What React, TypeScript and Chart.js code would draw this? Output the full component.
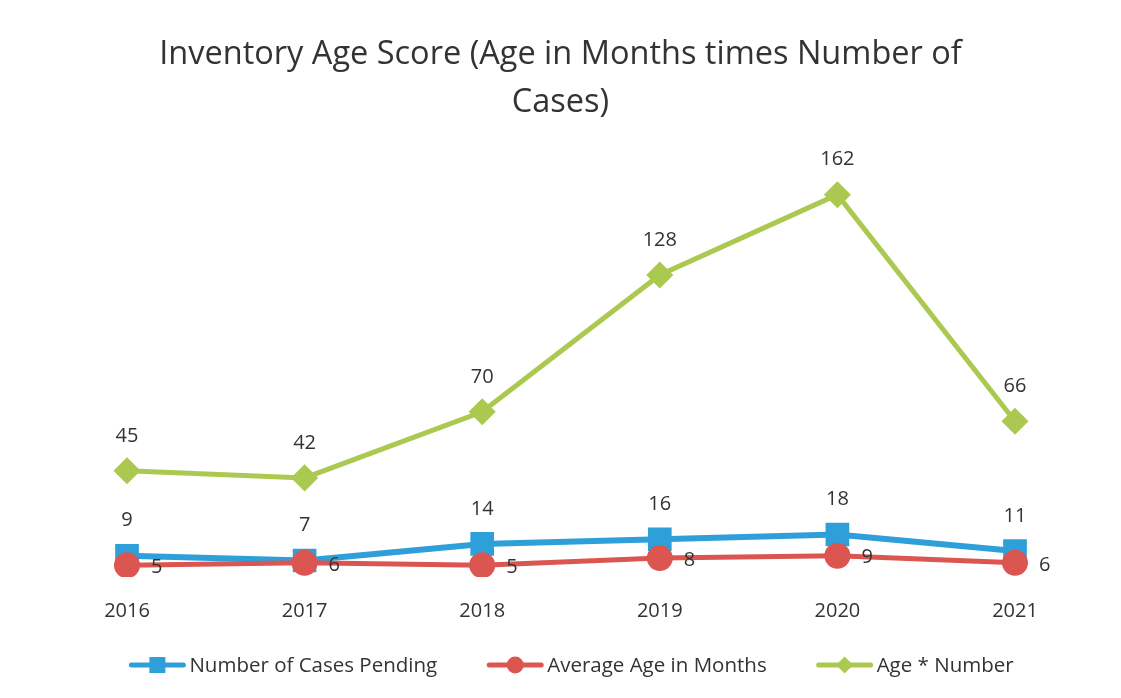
import React, { useEffect, useRef } from 'react';
import { Chart, registerables } from 'chart.js';

Chart.register(...registerables);

const years = ['2016', '2017', '2018', '2019', '2020', '2021'];
const casesPending = [9, 7, 14, 16, 18, 11];
const avgAgeMonths = [5, 6, 5, 8, 9, 6];
const ageTimesNumber = [45, 42, 70, 128, 162, 66];
const seriesNames = ['Number of Cases Pending', 'Average Age in Months', 'Age * Number'];
const titleLines = ['Inventory Age Score (Age in Months times Number of', 'Cases)'];

const BLUE = '#2e9fd9';
const RED = '#dc5651';
const GREEN = '#abc951';
const TEXT = '#333333';
const FONT = '"Open Sans", "Noto Sans", sans-serif';

const valueLabels = {
  id: 'valueLabels',
  afterDatasetsDraw(chart: any) {
    const ctx = chart.ctx;
    ctx.save();
    ctx.font = `20px ${FONT}`;
    ctx.fillStyle = TEXT;
    ctx.textBaseline = 'middle';
    chart.data.datasets.forEach((ds: any, i: number) => {
      const meta = chart.getDatasetMeta(i);
      meta.data.forEach((pt: any, j: number) => {
        const v = String(ds.data[j]);
        if (ds.labelPos === 'right') {
          ctx.textAlign = 'left';
          ctx.fillText(v, pt.x + 24, pt.y + 2);
        } else {
          ctx.textAlign = 'center';
          ctx.fillText(v, pt.x, pt.y - 35);
        }
      });
    });
    ctx.restore();
  },
};

const lineLegend = {
  id: 'lineLegend',
  afterDraw(chart: any) {
    const ctx = chart.ctx;
    const y = 665;
    const iconW = 56;
    const iconGap = 4;
    const itemGap = 50;
    ctx.save();
    ctx.font = `20.5px ${FONT}`;
    const items = chart.data.datasets.map((ds: any) => ({
      ds,
      w: ctx.measureText(ds.label).width,
    }));
    const total =
      items.reduce((s: number, it: any) => s + iconW + iconGap + it.w, 0) + itemGap * (items.length - 1);
    let x = chart.width / 2 + 11 - total / 2;
    items.forEach((it: any) => {
      const c = it.ds.borderColor;
      ctx.strokeStyle = c;
      ctx.fillStyle = c;
      ctx.lineWidth = 5;
      ctx.lineCap = 'round';
      ctx.beginPath();
      ctx.moveTo(x + 2, y);
      ctx.lineTo(x + iconW - 2, y);
      ctx.stroke();
      const cx = x + iconW / 2;
      ctx.beginPath();
      if (it.ds.pointStyle === 'rect') {
        ctx.rect(cx - 8, y - 8, 16, 16);
      } else if (it.ds.pointStyle === 'circle') {
        ctx.arc(cx, y, 8.5, 0, Math.PI * 2);
      } else {
        ctx.moveTo(cx, y - 8.5);
        ctx.lineTo(cx + 8.5, y);
        ctx.lineTo(cx, y + 8.5);
        ctx.lineTo(cx - 8.5, y);
        ctx.closePath();
      }
      ctx.fill();
      ctx.fillStyle = TEXT;
      ctx.textAlign = 'left';
      ctx.textBaseline = 'middle';
      ctx.fillText(it.ds.label, x + iconW + iconGap, y + 1);
      x += iconW + iconGap + it.w + itemGap;
    });
    ctx.restore();
  },
};

export default function App() {
  const ref = useRef<HTMLCanvasElement>(null);
  useEffect(() => {
    document.body.style.margin = '0';
    const chart = new Chart(ref.current!, {
      type: 'line',
      data: {
        labels: years,
        datasets: [
          {
            label: seriesNames[0],
            data: casesPending,
            borderColor: BLUE,
            backgroundColor: BLUE,
            borderWidth: 6,
            pointStyle: 'rect',
            pointRadius: 12.5,
            pointHoverRadius: 12.5,
            order: 3,
            labelPos: 'above',
          } as any,
          {
            label: seriesNames[1],
            data: avgAgeMonths,
            borderColor: RED,
            backgroundColor: RED,
            borderWidth: 5,
            pointStyle: 'circle',
            pointRadius: 10.5,
            pointHoverRadius: 10.5,
            order: 2,
            labelPos: 'right',
          } as any,
          {
            label: seriesNames[2],
            data: ageTimesNumber,
            borderColor: GREEN,
            backgroundColor: GREEN,
            borderWidth: 5,
            pointStyle: 'rectRot',
            pointRadius: 10,
            pointHoverRadius: 10,
            order: 1,
            labelPos: 'above',
          } as any,
        ],
      },
      options: {
        responsive: false,
        animation: false,
        layout: { padding: { left: 0, right: 0, top: 0, bottom: 61 } },
        scales: {
          x: {
            offset: false,
            grid: { display: false },
            border: { display: false },
            ticks: { color: TEXT, font: { family: FONT, size: 20 }, padding: 14 },
          },
          y: {
            position: 'left',
            min: 0,
            max: 180,
            grid: { display: false },
            border: { display: false },
            ticks: { display: false },
            afterFit: (s: any) => {
              s.width = 127;
            },
          },
          y2: {
            position: 'right',
            min: 0,
            max: 1,
            grid: { display: false },
            border: { display: false },
            ticks: { display: false },
            afterFit: (s: any) => {
              s.width = 106;
            },
          },
        },
        plugins: {
          tooltip: { enabled: false },
          legend: { display: false },
          title: {
            display: true,
            text: titleLines,
            color: TEXT,
            font: { family: FONT, size: 32.5, weight: 'normal', lineHeight: 1.48 },
            padding: { top: 31, bottom: 25 },
          },
        },
      },
      plugins: [valueLabels, lineLegend],
    } as any);
    return () => chart.destroy();
  }, []);
  return (
    <div style={{ width: 1121, height: 698, background: '#ffffff' }}>
      <canvas ref={ref} width={1121} height={698} />
    </div>
  );
}
